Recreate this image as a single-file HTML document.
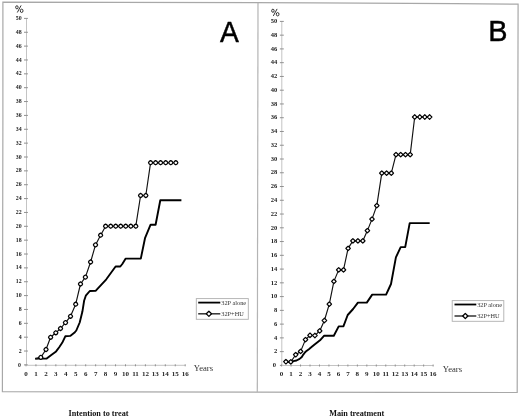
<!DOCTYPE html>
<html><head><meta charset="utf-8"><style>
html,body{margin:0;padding:0;background:#fff;}
body{width:520px;height:416px;overflow:hidden;position:relative;}
svg{position:absolute;left:0;top:0;filter:grayscale(1) blur(0.3px);}
.ax{stroke:#c4c4c4;stroke-width:1;fill:none;}
.tk{stroke:#909090;stroke-width:1;fill:none;}
.bd{stroke:#a8a8a8;stroke-width:1.2;fill:none;}
.yl{font-family:"Liberation Serif", serif;font-weight:bold;font-size:7px;fill:#222;text-anchor:end;}
.xl{font-family:"Liberation Serif", serif;font-weight:bold;font-size:7px;fill:#222;text-anchor:middle;}
.bl{stroke:#000;stroke-width:1.9;fill:none;stroke-linejoin:round;stroke-linecap:butt;}
.hl{stroke:#111;stroke-width:1.15;fill:none;stroke-linejoin:round;}
.dm{stroke:#000;stroke-width:1.22;fill:#fff;stroke-linejoin:round;}
.pcs{fill:none;stroke:#2a2a2a;stroke-width:0.95;}
.pc{font-family:"Liberation Sans", sans-serif;font-size:10.2px;fill:#333;stroke:#333;stroke-width:0.25;}
.lt{font-family:"Liberation Sans", sans-serif;font-size:31px;fill:#000;stroke:#000;stroke-width:0.45;}
.yr{font-family:"Liberation Serif", serif;font-size:8.6px;fill:#333;}
.cap{font-family:"Liberation Serif", serif;font-weight:bold;font-size:8.2px;fill:#111;}
.lg{font-family:"Liberation Serif", serif;font-size:6.3px;fill:#333;}
.lgb{stroke:#b0b0b0;stroke-width:0.9;fill:#fff;}
</style></head><body>
<svg width="520" height="416" viewBox="0 0 520 416">
<path class="bd" d="M2.9 2.2L115 2.35L315 2.85L455 3.55L518.1 4.2L517.6 210L517.2 392.5L395 392.4L115 391.9L2.4 391.7L2.5 315L2.9 115Z"/>
<path class="bd" style="stroke:#b4b4b4" d="M258.0 2.8L257.3 392"/>
<path class="ax" d="M26.5 18.4V364.9"/>
<path class="tk" d="M24 364.9H27.9M24 351.04H27.9M24 337.18H27.9M24 323.32H27.9M24 309.46H27.9M24 295.6H27.9M24 281.74H27.9M24 267.88H27.9M24 254.02H27.9M24 240.16H27.9M24 226.3H27.9M24 212.44H27.9M24 198.58H27.9M24 184.72H27.9M24 170.86H27.9M24 157H27.9M24 143.14H27.9M24 129.28H27.9M24 115.42H27.9M24 101.56H27.9M24 87.7H27.9M24 73.84H27.9M24 59.98H27.9M24 46.12H27.9M24 32.26H27.9M24 18.4H27.9"/>
<path class="ax" d="M26.5 365.3H185.2"/>
<path class="tk" d="M26 364.3V366.3M35.95 364.3V366.3M45.9 364.3V366.3M55.85 364.3V366.3M65.8 364.3V366.3M75.75 364.3V366.3M85.7 364.3V366.3M95.65 364.3V366.3M105.6 364.3V366.3M115.55 364.3V366.3M125.5 364.3V366.3M135.45 364.3V366.3M145.4 364.3V366.3M155.35 364.3V366.3M165.3 364.3V366.3M175.25 364.3V366.3M185.2 364.3V366.3"/>
<text class="yl" style="font-size:7px" transform="translate(21 366.5) scale(0.84 1)">0</text>
<text class="yl" style="font-size:7px" transform="translate(21.6 352.64) scale(0.84 1)">2</text>
<text class="yl" style="font-size:7px" transform="translate(21.6 338.78) scale(0.84 1)">4</text>
<text class="yl" style="font-size:7px" transform="translate(21.6 324.92) scale(0.84 1)">6</text>
<text class="yl" style="font-size:7px" transform="translate(21.6 311.06) scale(0.84 1)">8</text>
<text class="yl" style="font-size:7px" transform="translate(21.6 297.2) scale(0.84 1)">10</text>
<text class="yl" style="font-size:7px" transform="translate(21.6 283.34) scale(0.84 1)">12</text>
<text class="yl" style="font-size:7px" transform="translate(21.6 269.48) scale(0.84 1)">14</text>
<text class="yl" style="font-size:7px" transform="translate(21.6 255.62) scale(0.84 1)">16</text>
<text class="yl" style="font-size:7px" transform="translate(21.6 241.76) scale(0.84 1)">18</text>
<text class="yl" style="font-size:7px" transform="translate(21.6 227.9) scale(0.84 1)">20</text>
<text class="yl" style="font-size:7px" transform="translate(21.6 214.04) scale(0.84 1)">22</text>
<text class="yl" style="font-size:7px" transform="translate(21.6 200.18) scale(0.84 1)">24</text>
<text class="yl" style="font-size:7px" transform="translate(21.6 186.32) scale(0.84 1)">26</text>
<text class="yl" style="font-size:7px" transform="translate(21.6 172.46) scale(0.84 1)">28</text>
<text class="yl" style="font-size:7px" transform="translate(21.6 158.6) scale(0.84 1)">30</text>
<text class="yl" style="font-size:7px" transform="translate(21.6 144.74) scale(0.84 1)">32</text>
<text class="yl" style="font-size:7px" transform="translate(21.6 130.88) scale(0.84 1)">34</text>
<text class="yl" style="font-size:7px" transform="translate(21.6 117.02) scale(0.84 1)">36</text>
<text class="yl" style="font-size:7px" transform="translate(21.6 103.16) scale(0.84 1)">38</text>
<text class="yl" style="font-size:7px" transform="translate(21.6 89.3) scale(0.84 1)">40</text>
<text class="yl" style="font-size:7px" transform="translate(21.6 75.44) scale(0.84 1)">42</text>
<text class="yl" style="font-size:7px" transform="translate(21.6 61.58) scale(0.84 1)">44</text>
<text class="yl" style="font-size:7px" transform="translate(21.6 47.72) scale(0.84 1)">46</text>
<text class="yl" style="font-size:7px" transform="translate(21.6 33.86) scale(0.84 1)">48</text>
<text class="yl" style="font-size:7px" transform="translate(21.6 20) scale(0.84 1)">50</text>
<text class="xl" x="26" y="376.3">0</text>
<text class="xl" x="35.95" y="376.3">1</text>
<text class="xl" x="45.9" y="376.3">2</text>
<text class="xl" x="55.85" y="376.3">3</text>
<text class="xl" x="65.8" y="376.3">4</text>
<text class="xl" x="75.75" y="376.3">5</text>
<text class="xl" x="85.7" y="376.3">6</text>
<text class="xl" x="95.65" y="376.3">7</text>
<text class="xl" x="105.6" y="376.3">8</text>
<text class="xl" x="115.55" y="376.3">9</text>
<text class="xl" x="125.5" y="376.3">10</text>
<text class="xl" x="135.45" y="376.3">11</text>
<text class="xl" x="145.4" y="376.3">12</text>
<text class="xl" x="155.35" y="376.3">13</text>
<text class="xl" x="165.3" y="376.3">14</text>
<text class="xl" x="175.25" y="376.3">15</text>
<text class="xl" x="185.2" y="376.3">16</text>
<g class="pcs" transform="translate(16.9 7.3)"><ellipse cx="0" cy="0" rx="1.25" ry="1.55"/><ellipse cx="4.75" cy="3.5" rx="1.35" ry="1.7"/><path d="M4.2 -1.85L0.4 5.2"/></g>
<text class="lt" style="font-size:30.4px" transform="translate(219.9 41.9) scale(0.93 1)">A</text>
<text class="yr" x="193.8" y="371.3">Years</text>
<text class="cap" x="68.6" y="415.5">Intention to treat</text>
<path class="bl" d="M35.2 358.8L38.7 358.5L41 358.6L46.7 358.6L51.3 355L56.1 351.4L59.2 347.2L62.2 342.8L65.3 336.3L70.2 335.9L74.3 332.8L76.3 330.5L79.7 322.5L82.4 311.6L84.1 300.8L85.8 295.7L89.8 291L95.6 290.9L106.3 279.3L115.6 266.5L120.3 266.5L122.3 264L125.7 258.6L140.8 258.6L145.1 237.8L150.6 224.7L155.6 224.7L160.3 200.2L181.4 200.2"/>
<path class="hl" d="M35.2 358.8L40.8 357.4L46 349.5L50.6 337.3L55.8 332.8L60.5 328.5L65.5 322.6L70.5 316.3L75.7 304.2L80.5 284L85.4 277.1L90.6 262L95.5 244.9L100.6 235.2L105.6 226.2L110.7 226.2L115.7 226.2L120.7 226.2L125.7 226.2L130.8 226.2L135.8 226.2L140.6 195.5L145.8 195.5L150.6 162.7L155.6 162.7L160.6 162.7L165.7 162.7L170.8 162.7L175.8 162.7"/>
<path d="M42.9 357.4L42.14 358.74L40.8 359.5L39.46 358.74L38.7 357.4L39.46 356.06L40.8 355.3L42.14 356.06Z" class="dm"/>
<path d="M48.1 349.5L47.34 350.84L46 351.6L44.66 350.84L43.9 349.5L44.66 348.16L46 347.4L47.34 348.16Z" class="dm"/>
<path d="M52.7 337.3L51.94 338.64L50.6 339.4L49.26 338.64L48.5 337.3L49.26 335.96L50.6 335.2L51.94 335.96Z" class="dm"/>
<path d="M57.9 332.8L57.14 334.14L55.8 334.9L54.46 334.14L53.7 332.8L54.46 331.46L55.8 330.7L57.14 331.46Z" class="dm"/>
<path d="M62.6 328.5L61.84 329.84L60.5 330.6L59.16 329.84L58.4 328.5L59.16 327.16L60.5 326.4L61.84 327.16Z" class="dm"/>
<path d="M67.6 322.6L66.84 323.94L65.5 324.7L64.16 323.94L63.4 322.6L64.16 321.26L65.5 320.5L66.84 321.26Z" class="dm"/>
<path d="M72.6 316.3L71.84 317.64L70.5 318.4L69.16 317.64L68.4 316.3L69.16 314.96L70.5 314.2L71.84 314.96Z" class="dm"/>
<path d="M77.8 304.2L77.04 305.54L75.7 306.3L74.36 305.54L73.6 304.2L74.36 302.86L75.7 302.1L77.04 302.86Z" class="dm"/>
<path d="M82.6 284L81.84 285.34L80.5 286.1L79.16 285.34L78.4 284L79.16 282.66L80.5 281.9L81.84 282.66Z" class="dm"/>
<path d="M87.5 277.1L86.74 278.44L85.4 279.2L84.06 278.44L83.3 277.1L84.06 275.76L85.4 275L86.74 275.76Z" class="dm"/>
<path d="M92.7 262L91.94 263.34L90.6 264.1L89.26 263.34L88.5 262L89.26 260.66L90.6 259.9L91.94 260.66Z" class="dm"/>
<path d="M97.6 244.9L96.84 246.24L95.5 247L94.16 246.24L93.4 244.9L94.16 243.56L95.5 242.8L96.84 243.56Z" class="dm"/>
<path d="M102.7 235.2L101.94 236.54L100.6 237.3L99.26 236.54L98.5 235.2L99.26 233.86L100.6 233.1L101.94 233.86Z" class="dm"/>
<path d="M107.7 226.2L106.94 227.54L105.6 228.3L104.26 227.54L103.5 226.2L104.26 224.86L105.6 224.1L106.94 224.86Z" class="dm"/>
<path d="M112.8 226.2L112.04 227.54L110.7 228.3L109.36 227.54L108.6 226.2L109.36 224.86L110.7 224.1L112.04 224.86Z" class="dm"/>
<path d="M117.8 226.2L117.04 227.54L115.7 228.3L114.36 227.54L113.6 226.2L114.36 224.86L115.7 224.1L117.04 224.86Z" class="dm"/>
<path d="M122.8 226.2L122.04 227.54L120.7 228.3L119.36 227.54L118.6 226.2L119.36 224.86L120.7 224.1L122.04 224.86Z" class="dm"/>
<path d="M127.8 226.2L127.04 227.54L125.7 228.3L124.36 227.54L123.6 226.2L124.36 224.86L125.7 224.1L127.04 224.86Z" class="dm"/>
<path d="M132.9 226.2L132.14 227.54L130.8 228.3L129.46 227.54L128.7 226.2L129.46 224.86L130.8 224.1L132.14 224.86Z" class="dm"/>
<path d="M137.9 226.2L137.14 227.54L135.8 228.3L134.46 227.54L133.7 226.2L134.46 224.86L135.8 224.1L137.14 224.86Z" class="dm"/>
<path d="M142.7 195.5L141.94 196.84L140.6 197.6L139.26 196.84L138.5 195.5L139.26 194.16L140.6 193.4L141.94 194.16Z" class="dm"/>
<path d="M147.9 195.5L147.14 196.84L145.8 197.6L144.46 196.84L143.7 195.5L144.46 194.16L145.8 193.4L147.14 194.16Z" class="dm"/>
<path d="M152.7 162.7L151.94 164.04L150.6 164.8L149.26 164.04L148.5 162.7L149.26 161.36L150.6 160.6L151.94 161.36Z" class="dm"/>
<path d="M157.7 162.7L156.94 164.04L155.6 164.8L154.26 164.04L153.5 162.7L154.26 161.36L155.6 160.6L156.94 161.36Z" class="dm"/>
<path d="M162.7 162.7L161.94 164.04L160.6 164.8L159.26 164.04L158.5 162.7L159.26 161.36L160.6 160.6L161.94 161.36Z" class="dm"/>
<path d="M167.8 162.7L167.04 164.04L165.7 164.8L164.36 164.04L163.6 162.7L164.36 161.36L165.7 160.6L167.04 161.36Z" class="dm"/>
<path d="M172.9 162.7L172.14 164.04L170.8 164.8L169.46 164.04L168.7 162.7L169.46 161.36L170.8 160.6L172.14 161.36Z" class="dm"/>
<path d="M177.9 162.7L177.14 164.04L175.8 164.8L174.46 164.04L173.7 162.7L174.46 161.36L175.8 160.6L177.14 161.36Z" class="dm"/>
<rect class="lgb" x="196.3" y="298.6" width="52" height="20.7"/>
<path class="bl" style="stroke-width:1.8" d="M198.2 302.6H220.3"/>
<path class="hl" style="stroke-width:1.5;stroke:#333" d="M198.2 313.8H220.3"/>
<path d="M211.5 313.8L210.21 315.11L208.9 316.4L207.59 315.11L206.3 313.8L207.59 312.49L208.9 311.2L210.21 312.49Z" class="dm" style="stroke-width:1.25"/>
<text class="lg" x="221.3" y="304.6">32P alone</text>
<text class="lg" x="221.3" y="315.8">32P+HU</text>
<path class="ax" d="M281.8 21.4V365.4"/>
<path class="tk" d="M279.9 365.4H283.8M279.9 351.64H283.8M279.9 337.88H283.8M279.9 324.12H283.8M279.9 310.36H283.8M279.9 296.6H283.8M279.9 282.84H283.8M279.9 269.08H283.8M279.9 255.32H283.8M279.9 241.56H283.8M279.9 227.8H283.8M279.9 214.04H283.8M279.9 200.28H283.8M279.9 186.52H283.8M279.9 172.76H283.8M279.9 159H283.8M279.9 145.24H283.8M279.9 131.48H283.8M279.9 117.72H283.8M279.9 103.96H283.8M279.9 90.2H283.8M279.9 76.44H283.8M279.9 62.68H283.8M279.9 48.92H283.8M279.9 35.16H283.8M279.9 21.4H283.8"/>
<path class="ax" d="M281.8 365.5H433.3"/>
<path class="tk" d="M281.6 364.5V366.5M291.07 364.5V366.5M300.54 364.5V366.5M310.01 364.5V366.5M319.48 364.5V366.5M328.95 364.5V366.5M338.42 364.5V366.5M347.89 364.5V366.5M357.36 364.5V366.5M366.83 364.5V366.5M376.3 364.5V366.5M385.77 364.5V366.5M395.24 364.5V366.5M404.71 364.5V366.5M414.18 364.5V366.5M423.65 364.5V366.5M433.12 364.5V366.5"/>
<text class="yl" style="font-size:6.9px" transform="translate(276 367.1) scale(0.95 1)">0</text>
<text class="yl" style="font-size:6.9px" transform="translate(277.3 353.34) scale(0.95 1)">2</text>
<text class="yl" style="font-size:6.9px" transform="translate(277.3 339.58) scale(0.95 1)">4</text>
<text class="yl" style="font-size:6.9px" transform="translate(277.3 325.82) scale(0.95 1)">6</text>
<text class="yl" style="font-size:6.9px" transform="translate(277.3 312.06) scale(0.95 1)">8</text>
<text class="yl" style="font-size:6.9px" transform="translate(277.3 298.3) scale(0.95 1)">10</text>
<text class="yl" style="font-size:6.9px" transform="translate(277.3 284.54) scale(0.95 1)">12</text>
<text class="yl" style="font-size:6.9px" transform="translate(277.3 270.78) scale(0.95 1)">14</text>
<text class="yl" style="font-size:6.9px" transform="translate(277.3 257.02) scale(0.95 1)">16</text>
<text class="yl" style="font-size:6.9px" transform="translate(277.3 243.26) scale(0.95 1)">18</text>
<text class="yl" style="font-size:6.9px" transform="translate(277.3 229.5) scale(0.95 1)">20</text>
<text class="yl" style="font-size:6.9px" transform="translate(277.3 215.74) scale(0.95 1)">22</text>
<text class="yl" style="font-size:6.9px" transform="translate(277.3 201.98) scale(0.95 1)">24</text>
<text class="yl" style="font-size:6.9px" transform="translate(277.3 188.22) scale(0.95 1)">26</text>
<text class="yl" style="font-size:6.9px" transform="translate(277.3 174.46) scale(0.95 1)">28</text>
<text class="yl" style="font-size:6.9px" transform="translate(277.3 160.7) scale(0.95 1)">30</text>
<text class="yl" style="font-size:6.9px" transform="translate(277.3 146.94) scale(0.95 1)">32</text>
<text class="yl" style="font-size:6.9px" transform="translate(277.3 133.18) scale(0.95 1)">34</text>
<text class="yl" style="font-size:6.9px" transform="translate(277.3 119.42) scale(0.95 1)">36</text>
<text class="yl" style="font-size:6.9px" transform="translate(277.3 105.66) scale(0.95 1)">38</text>
<text class="yl" style="font-size:6.9px" transform="translate(277.3 91.9) scale(0.95 1)">40</text>
<text class="yl" style="font-size:6.9px" transform="translate(277.3 78.14) scale(0.95 1)">42</text>
<text class="yl" style="font-size:6.9px" transform="translate(277.3 64.38) scale(0.95 1)">44</text>
<text class="yl" style="font-size:6.9px" transform="translate(277.3 50.62) scale(0.95 1)">46</text>
<text class="yl" style="font-size:6.9px" transform="translate(277.3 36.86) scale(0.95 1)">48</text>
<text class="yl" style="font-size:6.9px" transform="translate(277.3 23.1) scale(0.95 1)">50</text>
<text class="xl" x="281.6" y="375.8">0</text>
<text class="xl" x="291.07" y="375.8">1</text>
<text class="xl" x="300.54" y="375.8">2</text>
<text class="xl" x="310.01" y="375.8">3</text>
<text class="xl" x="319.48" y="375.8">4</text>
<text class="xl" x="328.95" y="375.8">5</text>
<text class="xl" x="338.42" y="375.8">6</text>
<text class="xl" x="347.89" y="375.8">7</text>
<text class="xl" x="357.36" y="375.8">8</text>
<text class="xl" x="366.83" y="375.8">9</text>
<text class="xl" x="376.3" y="375.8">10</text>
<text class="xl" x="385.77" y="375.8">11</text>
<text class="xl" x="395.24" y="375.8">12</text>
<text class="xl" x="404.71" y="375.8">13</text>
<text class="xl" x="414.18" y="375.8">14</text>
<text class="xl" x="423.65" y="375.8">15</text>
<text class="xl" x="433.12" y="375.8">16</text>
<g class="pcs" transform="translate(272.9 10.75)"><ellipse cx="0" cy="0" rx="1.25" ry="1.55"/><ellipse cx="4.75" cy="3.5" rx="1.35" ry="1.7"/><path d="M4.2 -1.85L0.4 5.2"/></g>
<text class="lt" style="font-size:29.8px" transform="translate(488.2 40.7) scale(0.97 1)">B</text>
<text class="yr" x="442.8" y="372.2">Years</text>
<text class="cap" x="329.2" y="415.5">Main treatment</text>
<path class="bl" d="M286 362L290.8 361.8L293.3 361.2L296.5 360.5L299.6 358.9L301.8 357L303.3 354.6L304.9 352.5L306.5 350.9L309.2 348.9L311.8 346.8L314.6 344.5L320 340.3L324.2 335.7L333.8 335.7L338.7 326.4L343.5 326.2L347.7 315L353.1 309L357.9 302.6L366.8 302.6L372.2 294.6L386.1 294.6L388.7 289L391 284L395.9 257.4L400.7 247.1L405.2 247.1L409.7 223.1L429.7 223.1"/>
<path class="hl" d="M285.9 361.7L290.8 361.9L295.7 354.7L300.6 351.4L305.5 339.6L310 335.3L314.9 335.5L319.7 330.9L324.4 320.5L329.3 304.1L333.9 281.4L338.7 269.9L343.5 269.9L348.1 248.4L352.9 240.9L357.9 240.9L362.8 240.9L367.4 230.6L372 219.1L376.8 205.6L381.8 173.1L386.6 173.1L391.3 173.1L396 154.6L400.7 154.6L405.5 154.6L410.2 154.6L414.7 117L419.8 117L424.8 117L429.6 117"/>
<path d="M288.15 361.7L287.07 362.87L285.9 363.95L284.73 362.87L283.65 361.7L284.73 360.53L285.9 359.45L287.07 360.53Z" class="dm"/>
<path d="M293.05 361.9L291.97 363.07L290.8 364.15L289.63 363.07L288.55 361.9L289.63 360.73L290.8 359.65L291.97 360.73Z" class="dm"/>
<path d="M297.95 354.7L296.87 355.87L295.7 356.95L294.53 355.87L293.45 354.7L294.53 353.53L295.7 352.45L296.87 353.53Z" class="dm"/>
<path d="M302.85 351.4L301.77 352.57L300.6 353.65L299.43 352.57L298.35 351.4L299.43 350.23L300.6 349.15L301.77 350.23Z" class="dm"/>
<path d="M307.75 339.6L306.67 340.77L305.5 341.85L304.33 340.77L303.25 339.6L304.33 338.43L305.5 337.35L306.67 338.43Z" class="dm"/>
<path d="M312.25 335.3L311.17 336.47L310 337.55L308.83 336.47L307.75 335.3L308.83 334.13L310 333.05L311.17 334.13Z" class="dm"/>
<path d="M317.15 335.5L316.07 336.67L314.9 337.75L313.73 336.67L312.65 335.5L313.73 334.33L314.9 333.25L316.07 334.33Z" class="dm"/>
<path d="M321.95 330.9L320.87 332.07L319.7 333.15L318.53 332.07L317.45 330.9L318.53 329.73L319.7 328.65L320.87 329.73Z" class="dm"/>
<path d="M326.65 320.5L325.57 321.67L324.4 322.75L323.23 321.67L322.15 320.5L323.23 319.33L324.4 318.25L325.57 319.33Z" class="dm"/>
<path d="M331.55 304.1L330.47 305.27L329.3 306.35L328.13 305.27L327.05 304.1L328.13 302.93L329.3 301.85L330.47 302.93Z" class="dm"/>
<path d="M336.15 281.4L335.07 282.57L333.9 283.65L332.73 282.57L331.65 281.4L332.73 280.23L333.9 279.15L335.07 280.23Z" class="dm"/>
<path d="M340.95 269.9L339.87 271.07L338.7 272.15L337.53 271.07L336.45 269.9L337.53 268.73L338.7 267.65L339.87 268.73Z" class="dm"/>
<path d="M345.75 269.9L344.67 271.07L343.5 272.15L342.33 271.07L341.25 269.9L342.33 268.73L343.5 267.65L344.67 268.73Z" class="dm"/>
<path d="M350.35 248.4L349.27 249.57L348.1 250.65L346.93 249.57L345.85 248.4L346.93 247.23L348.1 246.15L349.27 247.23Z" class="dm"/>
<path d="M355.15 240.9L354.07 242.07L352.9 243.15L351.73 242.07L350.65 240.9L351.73 239.73L352.9 238.65L354.07 239.73Z" class="dm"/>
<path d="M360.15 240.9L359.07 242.07L357.9 243.15L356.73 242.07L355.65 240.9L356.73 239.73L357.9 238.65L359.07 239.73Z" class="dm"/>
<path d="M365.05 240.9L363.97 242.07L362.8 243.15L361.63 242.07L360.55 240.9L361.63 239.73L362.8 238.65L363.97 239.73Z" class="dm"/>
<path d="M369.65 230.6L368.57 231.77L367.4 232.85L366.23 231.77L365.15 230.6L366.23 229.43L367.4 228.35L368.57 229.43Z" class="dm"/>
<path d="M374.25 219.1L373.17 220.27L372 221.35L370.83 220.27L369.75 219.1L370.83 217.93L372 216.85L373.17 217.93Z" class="dm"/>
<path d="M379.05 205.6L377.97 206.77L376.8 207.85L375.63 206.77L374.55 205.6L375.63 204.43L376.8 203.35L377.97 204.43Z" class="dm"/>
<path d="M384.05 173.1L382.97 174.27L381.8 175.35L380.63 174.27L379.55 173.1L380.63 171.93L381.8 170.85L382.97 171.93Z" class="dm"/>
<path d="M388.85 173.1L387.77 174.27L386.6 175.35L385.43 174.27L384.35 173.1L385.43 171.93L386.6 170.85L387.77 171.93Z" class="dm"/>
<path d="M393.55 173.1L392.47 174.27L391.3 175.35L390.13 174.27L389.05 173.1L390.13 171.93L391.3 170.85L392.47 171.93Z" class="dm"/>
<path d="M398.25 154.6L397.17 155.77L396 156.85L394.83 155.77L393.75 154.6L394.83 153.43L396 152.35L397.17 153.43Z" class="dm"/>
<path d="M402.95 154.6L401.87 155.77L400.7 156.85L399.53 155.77L398.45 154.6L399.53 153.43L400.7 152.35L401.87 153.43Z" class="dm"/>
<path d="M407.75 154.6L406.67 155.77L405.5 156.85L404.33 155.77L403.25 154.6L404.33 153.43L405.5 152.35L406.67 153.43Z" class="dm"/>
<path d="M412.45 154.6L411.37 155.77L410.2 156.85L409.03 155.77L407.95 154.6L409.03 153.43L410.2 152.35L411.37 153.43Z" class="dm"/>
<path d="M416.95 117L415.87 118.17L414.7 119.25L413.53 118.17L412.45 117L413.53 115.83L414.7 114.75L415.87 115.83Z" class="dm"/>
<path d="M422.05 117L420.97 118.17L419.8 119.25L418.63 118.17L417.55 117L418.63 115.83L419.8 114.75L420.97 115.83Z" class="dm"/>
<path d="M427.05 117L425.97 118.17L424.8 119.25L423.63 118.17L422.55 117L423.63 115.83L424.8 114.75L425.97 115.83Z" class="dm"/>
<path d="M431.85 117L430.77 118.17L429.6 119.25L428.43 118.17L427.35 117L428.43 115.83L429.6 114.75L430.77 115.83Z" class="dm"/>
<rect class="lgb" x="452.2" y="300.6" width="51.6" height="20.7"/>
<path class="bl" style="stroke-width:1.8" d="M454.5 304.5H476.3"/>
<path class="hl" style="stroke-width:1.5;stroke:#333" d="M454.5 316H476.3"/>
<path d="M467.9 316L466.61 317.31L465.3 318.6L463.99 317.31L462.7 316L463.99 314.69L465.3 313.4L466.61 314.69Z" class="dm" style="stroke-width:1.25"/>
<text class="lg" x="477.2" y="306.5">32P alone</text>
<text class="lg" x="477.2" y="318">32P+HU</text>
</svg>
</body></html>
